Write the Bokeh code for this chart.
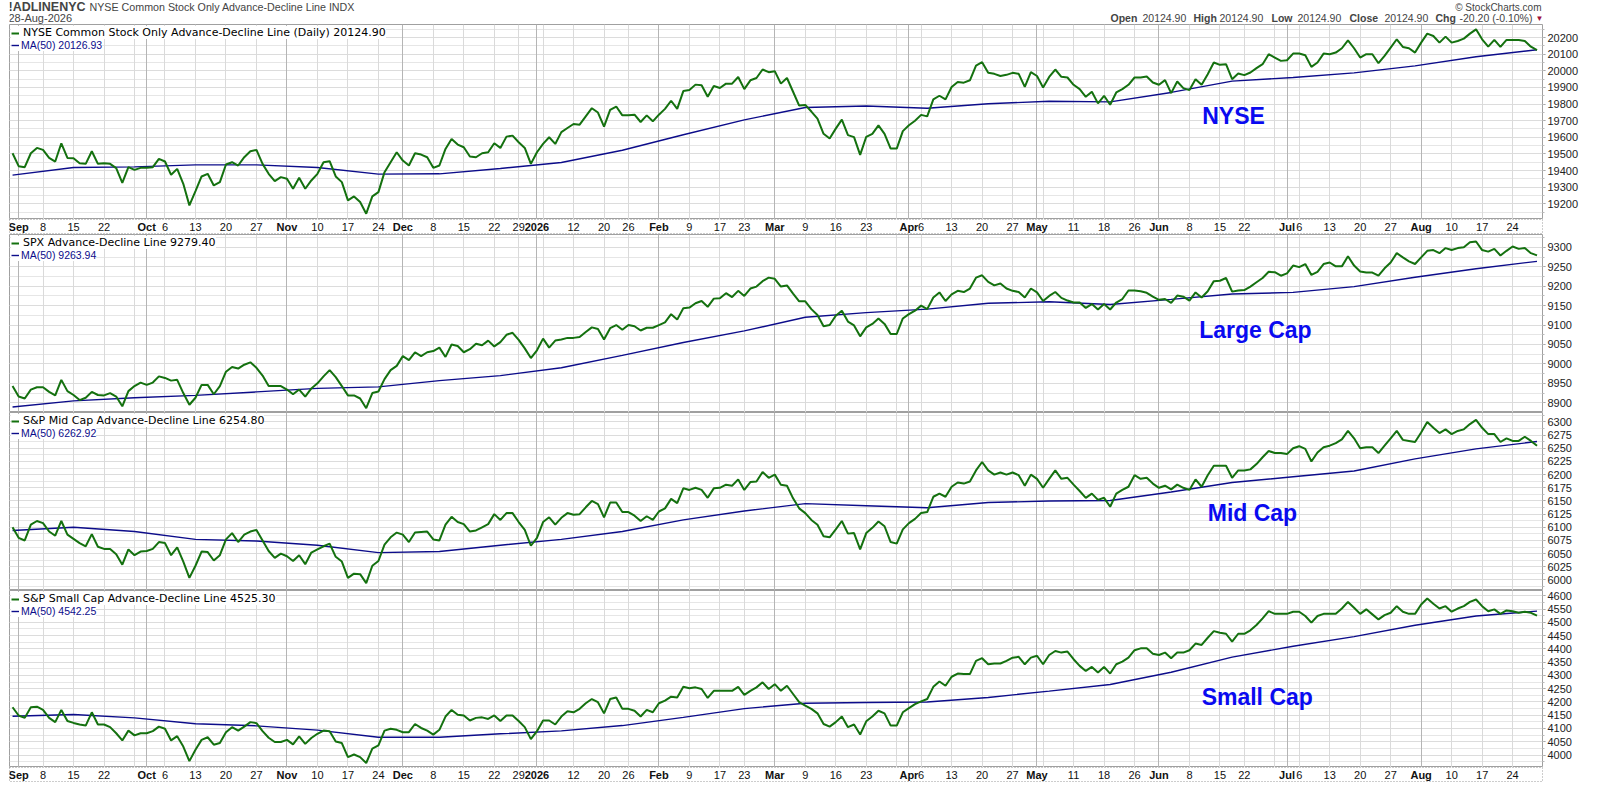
import pandas as pd
from bokeh.plotting import figure
from bokeh.layouts import column
from bokeh.models import (Range1d, SingleIntervalTicker, FixedTicker, Grid, Label,
                          Legend, LegendItem)
from bokeh.core.properties import value
from bokeh.embed import file_html
from bokeh.resources import INLINE

# trading calendar
holidays = ["2025-09-01", "2025-11-27", "2025-12-25", "2026-01-01", "2026-01-19",
            "2026-02-16", "2026-04-03", "2026-05-25", "2026-06-19", "2026-07-03"]
dates = [d for d in pd.bdate_range("2025-08-29", "2026-08-28")
         if d.strftime("%Y-%m-%d") not in holidays]

week_labels = ["2025-09-08", "2025-09-15", "2025-09-22", "2025-10-06", "2025-10-13",
               "2025-10-20", "2025-10-27", "2025-11-10", "2025-11-17", "2025-11-24",
               "2025-12-08", "2025-12-15", "2025-12-22", "2025-12-29", "2026-01-12",
               "2026-01-20", "2026-01-26", "2026-02-09", "2026-02-17", "2026-02-23",
               "2026-03-09", "2026-03-16", "2026-03-23", "2026-04-06", "2026-04-13",
               "2026-04-20", "2026-04-27", "2026-05-11", "2026-05-18", "2026-05-26",
               "2026-06-08", "2026-06-15", "2026-06-22", "2026-07-06", "2026-07-13",
               "2026-07-20", "2026-07-27", "2026-08-10", "2026-08-17", "2026-08-24"]

nyse = [19504, 19426, 19420, 19504, 19536, 19524, 19476, 19454, 19564, 19476,
        19474, 19444, 19440, 19516, 19440, 19444, 19440, 19414, 19326, 19420,
        19404, 19416, 19416, 19420, 19470, 19454, 19374, 19410, 19320, 19190,
        19276, 19364, 19380, 19310, 19330, 19436, 19450, 19430, 19480, 19516,
        19524, 19440, 19380, 19336, 19360, 19350, 19290, 19356, 19290, 19340,
        19380, 19450, 19456, 19364, 19330, 19220, 19244, 19210, 19140, 19244,
        19270, 19390, 19450, 19510, 19460, 19430, 19504, 19496, 19480, 19416,
        19430, 19530, 19590, 19556, 19540, 19484, 19480, 19504, 19510, 19564,
        19536, 19604, 19610, 19570, 19536, 19440, 19510, 19560, 19600, 19560,
        19631, 19656, 19680, 19676, 19726, 19775, 19749, 19664, 19765, 19785,
        19732, 19732, 19736, 19692, 19732, 19696, 19736, 19771, 19820, 19771,
        19878, 19884, 19917, 19913, 19844, 19909, 19897, 19923, 19923, 19963,
        19890, 19943, 19957, 20008, 19992, 19998, 19923, 19957, 19874, 19791,
        19795, 19755, 19712, 19621, 19593, 19652, 19706, 19613, 19601, 19494,
        19603, 19621, 19672, 19621, 19532, 19532, 19637, 19672, 19700, 19735,
        19726, 19828, 19850, 19828, 19903, 19933, 19929, 19943, 20032, 20052,
        19988, 19982, 19969, 19976, 19988, 19982, 19903, 19992, 19969, 19900,
        19963, 20008, 19964, 19960, 19916, 19890, 19844, 19874, 19804, 19850,
        19796, 19870, 19890, 19916, 19960, 19960, 19966, 19930, 19916, 19944,
        19866, 19936, 19896, 19884, 19950, 19916, 19980, 20050, 20036, 20040,
        19950, 19984, 19974, 19990, 20016, 20040, 20100, 20080, 20060, 20064,
        20104, 20104, 20094, 20024, 20050, 20104, 20100, 20110, 20136, 20184,
        20136, 20080, 20100, 20100, 20046, 20090, 20140, 20190, 20144, 20136,
        20110, 20170, 20224, 20210, 20170, 20206, 20170, 20180, 20194, 20224,
        20250, 20190, 20146, 20186, 20144, 20186, 20186, 20186, 20180, 20145.1,
        20124.9]

spx = [8943, 8916, 8911, 8934, 8940, 8940, 8928, 8919, 8959, 8930,
       8920, 8907, 8913, 8928, 8920, 8919, 8925, 8916, 8891, 8930,
       8943, 8952, 8946, 8952, 8968, 8964, 8957, 8959, 8925, 8895,
       8913, 8946, 8946, 8922, 8943, 8980, 8992, 8988, 8998, 9004,
       8990, 8970, 8943, 8943, 8943, 8934, 8922, 8934, 8916, 8937,
       8950, 8968, 8984, 8966, 8943, 8919, 8919, 8911, 8886, 8925,
       8929, 8961, 8984, 8995, 9020, 9010, 9030, 9020, 9030, 9033,
       9042, 9018, 9050, 9046, 9030, 9038, 9052, 9048, 9060, 9045,
       9056, 9075, 9080, 9062, 9040, 9015, 9035, 9065, 9042, 9060,
       9063, 9067, 9067, 9069, 9082, 9094, 9090, 9063, 9092, 9100,
       9088, 9100, 9097, 9086, 9093, 9093, 9100, 9107, 9128, 9114,
       9143, 9145, 9156, 9162, 9147, 9168, 9169, 9182, 9172, 9188,
       9175, 9194, 9199, 9213, 9222, 9219, 9199, 9202, 9181, 9161,
       9161, 9141, 9126, 9097, 9100, 9124, 9137, 9109, 9099, 9071,
       9094, 9103, 9117, 9103, 9077, 9077, 9117, 9128, 9137, 9150,
       9141, 9171, 9184, 9162, 9179, 9188, 9185, 9194, 9222, 9228,
       9211, 9202, 9207, 9194, 9188, 9185, 9171, 9194, 9184, 9162,
       9175, 9185, 9170, 9163, 9158, 9158, 9144, 9154, 9140, 9154,
       9140, 9158, 9167, 9189, 9189, 9187, 9183, 9173, 9165, 9167,
       9157, 9176, 9173, 9163, 9184, 9171, 9187, 9213, 9214, 9221,
       9186, 9189, 9190, 9199, 9210, 9221, 9237, 9236, 9227, 9233,
       9253, 9249, 9257, 9229, 9237, 9257, 9261, 9251, 9251, 9277,
       9253, 9238, 9235, 9235, 9227, 9246, 9261, 9285, 9274, 9264,
       9257, 9274, 9291, 9293, 9285, 9298, 9293, 9298, 9300, 9313,
       9315, 9293, 9289, 9296, 9279, 9291, 9302, 9296, 9298, 9285,
       9279.4]

midcap = [6100, 6080, 6075, 6105, 6112, 6108, 6092, 6084, 6112, 6086,
          6078, 6070, 6064, 6087, 6063, 6059, 6059, 6049, 6029, 6058,
          6047, 6054, 6055, 6059, 6072, 6070, 6047, 6062, 6035, 6004,
          6027, 6054, 6053, 6037, 6047, 6077, 6089, 6072, 6086, 6092,
          6095, 6075, 6055, 6042, 6050, 6045, 6036, 6047, 6030, 6052,
          6058, 6064, 6069, 6044, 6035, 6004, 6012, 6011, 5994, 6027,
          6036, 6067, 6081, 6090, 6086, 6072, 6090, 6091, 6092, 6077,
          6075, 6105, 6120, 6110, 6106, 6092, 6094, 6100, 6106, 6125,
          6114, 6127, 6127, 6110, 6095, 6065, 6080, 6110, 6119, 6105,
          6118, 6127, 6124, 6125, 6138, 6150, 6144, 6119, 6147, 6147,
          6129, 6129, 6122, 6112, 6121, 6114, 6130, 6136, 6154, 6146,
          6174, 6171, 6175, 6171, 6156, 6174, 6175, 6181, 6179, 6191,
          6171, 6186, 6187, 6205, 6194, 6200, 6181, 6179, 6155, 6136,
          6127, 6114, 6105, 6083, 6081, 6096, 6112, 6088, 6089, 6058,
          6089, 6099, 6111, 6102, 6072, 6069, 6096, 6108, 6116, 6127,
          6129, 6158, 6164, 6158, 6177, 6185, 6183, 6187, 6208, 6224,
          6208, 6200, 6204, 6200, 6204, 6199, 6179, 6200, 6192, 6175,
          6192, 6208, 6192, 6194, 6181, 6169, 6156, 6164, 6152, 6156,
          6139, 6164, 6171, 6177, 6199, 6192, 6194, 6183, 6175, 6179,
          6172, 6181, 6175, 6171, 6191, 6177, 6199, 6217, 6217, 6217,
          6194, 6208, 6208, 6210, 6220, 6233, 6245, 6241, 6241, 6239,
          6250, 6254, 6249, 6225, 6242, 6252, 6255, 6260, 6267, 6283,
          6269, 6250, 6252, 6252, 6241, 6255, 6269, 6283, 6266, 6264,
          6262, 6280, 6300, 6289, 6279, 6286, 6277, 6283, 6286, 6296,
          6304, 6289, 6277, 6277, 6262, 6269, 6264, 6264, 6272, 6264,
          6254.8]

smallcap = [4180, 4149, 4140, 4180, 4182, 4170, 4140, 4124, 4170, 4128,
            4121, 4115, 4111, 4161, 4115, 4115, 4105, 4082, 4055, 4092,
            4074, 4082, 4082, 4090, 4107, 4099, 4055, 4071, 4032, 3977,
            4020, 4057, 4067, 4039, 4045, 4086, 4105, 4092, 4107, 4124,
            4120, 4090, 4065, 4049, 4049, 4057, 4040, 4070, 4042, 4064,
            4080, 4092, 4090, 4051, 4045, 3992, 4002, 3992, 3970, 4024,
            4036, 4092, 4099, 4095, 4086, 4086, 4117, 4102, 4092, 4077,
            4095, 4145, 4170, 4152, 4149, 4130, 4140, 4142, 4136, 4149,
            4128, 4149, 4149, 4128, 4105, 4060, 4090, 4130, 4130, 4115,
            4145, 4165, 4161, 4174, 4195, 4211, 4199, 4157, 4211, 4217,
            4174, 4174, 4167, 4145, 4170, 4161, 4195, 4205, 4220, 4217,
            4257, 4252, 4255, 4249, 4215, 4242, 4242, 4242, 4242, 4257,
            4227, 4242, 4255, 4274, 4249, 4267, 4242, 4261, 4230, 4199,
            4186, 4174, 4157, 4117, 4107, 4124, 4145, 4105, 4115, 4077,
            4127, 4145, 4167, 4157, 4111, 4111, 4161, 4177, 4192, 4202,
            4211, 4257, 4277, 4261, 4295, 4307, 4305, 4305, 4355, 4365,
            4342, 4345, 4345, 4355, 4367, 4370, 4342, 4367, 4374, 4342,
            4377, 4392, 4386, 4390, 4361, 4336, 4317, 4332, 4311, 4332,
            4307, 4342, 4352, 4367, 4395, 4402, 4402, 4382, 4377, 4386,
            4365, 4386, 4386, 4395, 4420, 4415, 4442, 4467, 4461, 4457,
            4427, 4457, 4457, 4470, 4490, 4515, 4542, 4532, 4532, 4532,
            4540, 4540, 4524, 4499, 4524, 4532, 4532, 4532, 4552, 4577,
            4555, 4532, 4549, 4530, 4511, 4527, 4536, 4561, 4540, 4532,
            4532, 4567, 4590, 4570, 4552, 4561, 4540, 4552, 4561, 4577,
            4586, 4561, 4542, 4549, 4532, 4545, 4542, 4536, 4540, 4536,
            4525.3]

# 50-day moving averages read every 10 trading days
ma_step = 10
ma_nyse = [19372, 19418, 19422, 19434, 19434, 19418, 19378, 19380, 19412, 19448,
           19522, 19615, 19705, 19779, 19788, 19775, 19802, 19817, 19813, 19870,
           19938, 19960, 19988, 20030, 20085, 20126.93]
ma_spx = [8889, 8905, 8913, 8919, 8928, 8937, 8941, 8957, 8970, 8990,
          9022, 9055, 9085, 9120, 9132, 9141, 9156, 9160, 9153, 9166,
          9180, 9184, 9199, 9223, 9245, 9263.94]
ma_mid = [6094, 6100, 6092, 6077, 6074, 6066, 6052, 6054, 6066, 6077,
          6092, 6114, 6131, 6145, 6141, 6137, 6147, 6150, 6151, 6167,
          6185, 6196, 6207, 6230, 6249, 6262.92]
ma_small = [4146, 4153, 4140, 4118, 4110, 4094, 4067, 4067, 4080, 4091,
            4111, 4142, 4175, 4195, 4198, 4200, 4217, 4241, 4266, 4312,
            4369, 4410, 4446, 4489, 4524, 4542.25]

W = 1584
LB, RB = 9, 42          # left / right borders shared by every figure
GREEN = "#14710f"
NAVY = "#0c0c8a"
BLUE = "#0a0af0"
FONT = "Liberation Sans"

xs = list(range(len(dates)))
ma_x = list(range(0, len(dates), ma_step))
xr = Range1d(-0.5, 250.9)

week_x = [i for i in xs[1:] if dates[i].isocalendar()[1] != dates[i - 1].isocalendar()[1]]
month_x = [i for i in xs[1:] if dates[i].month != dates[i - 1].month]
week_x = [i for i in week_x if i not in month_x]
date_str = [d.strftime("%Y-%m-%d") for d in dates]
wl_x = [date_str.index(s) for s in week_labels]
wl_txt = [str(dates[i].day) for i in wl_x]
ml_txt = ["2026" if dates[i].month == 1 else dates[i].strftime("%b") for i in month_x]


def base(h, x_range, y_range, **kw):
    return figure(width=W, height=h, x_range=x_range, y_range=y_range, x_axis_type=None,
                  title=None, output_backend="svg", toolbar_location=None,
                  min_border_left=LB, min_border_right=RB, min_border_top=0,
                  min_border_bottom=0, **kw)


def panel(h, vals, ma, lo, hi, step, name, big, bx, by):
    p = base(h, xr, Range1d(lo, hi), y_axis_location="right")
    p.outline_line_color = "#a0a0a0"
    ax = p.yaxis[0]
    ax.ticker = SingleIntervalTicker(interval=step, num_minor_ticks=2)
    ax.axis_line_color = None
    ax.major_tick_in = 0
    ax.major_tick_out = 3
    ax.minor_tick_in = 0
    ax.minor_tick_out = 2
    ax.major_tick_line_color = "#999999"
    ax.minor_tick_line_color = "#bbbbbb"
    ax.major_label_standoff = 2
    ax.major_label_text_font = FONT
    ax.major_label_text_font_size = "11px"
    ax.major_label_text_color = "#222222"
    p.ygrid.grid_line_color = "#dcdcdc"
    p.ygrid.minor_grid_line_color = "#e6e6e6"
    p.add_layout(Grid(dimension=0, ticker=FixedTicker(ticks=week_x), grid_line_color="#dadada"))
    p.add_layout(Grid(dimension=0, ticker=FixedTicker(ticks=month_x), grid_line_color="#b5b5b5"))

    r_ma = p.line(ma_x, ma, line_color=NAVY, line_width=1.4)
    r = p.line(xs, vals, line_color=GREEN, line_width=2)

    legends = [
        (f"{name} {vals[-1]:.2f}", r, (2, h - 15), "black", "DejaVu Sans", "11px", 4),
        (f"MA(50) {ma[-1]:.2f}", r_ma, (2, h - 27), NAVY, FONT, "10.5px", 2),
    ]
    for label, rend, loc, col, fnt, size, stand in legends:
        p.add_layout(Legend(items=[LegendItem(label=label, renderers=[rend])], location=loc,
                            padding=1, margin=0, spacing=0, border_line_color=None,
                            background_fill_alpha=1, glyph_width=8, glyph_height=10,
                            label_height=10, label_standoff=stand, label_text_font=fnt,
                            label_text_font_size=size, label_text_color=col))

    p.add_layout(Label(x=bx, y=by, text=big, text_font=FONT, text_font_style="bold",
                       text_font_size="23px", text_color=BLUE, text_baseline="middle"))
    return p


def strip(h, yc):
    s = base(h, xr, Range1d(0, 1), y_axis_type=None)
    s.outline_line_color = "#9a9a9a"
    s.outline_line_dash = "1 2"
    s.text(wl_x, [yc] * len(wl_x), text=wl_txt, text_font=value(FONT),
           text_font_size="11px", text_align="center", text_baseline="middle",
           text_color="#111111")
    s.text(month_x, [yc] * len(month_x), text=ml_txt, text_font=value(FONT),
           text_font_style="bold", text_font_size="11px", text_align="center",
           text_baseline="middle", text_color="#111111")
    return s


# header: data x equals canvas pixels
hd = base(24, Range1d(LB, W - RB), Range1d(0, 24), y_axis_type=None)
hd.outline_line_color = None
last = nyse[-1]
chg = nyse[-1] - nyse[-2]
pct = chg / nyse[-2] * 100
hd.add_layout(Label(x=8, y=17.5, text="!ADLINENYC", text_font=FONT, text_font_style="bold",
                    text_font_size="12.5px", text_baseline="middle"))
hd.add_layout(Label(x=89, y=17.5, text="NYSE Common Stock Only Advance-Decline Line INDX",
                    text_font=FONT, text_font_size="10.7px", text_baseline="middle"))
hd.add_layout(Label(x=8, y=6.5, text="28-Aug-2026", text_font=FONT, text_font_size="11px",
                    text_baseline="middle"))
hd.add_layout(Label(x=W - RB - 1, y=17.5, text="\u00a9 StockCharts.com", text_font=FONT,
                    text_font_size="10px", text_align="right", text_baseline="middle",
                    text_color="#444444"))
ohlc = [("Open", True, 1110), (f"{last:.2f}", False, 1142),
        ("High", True, 1193), (f"{last:.2f}", False, 1219),
        ("Low", True, 1271), (f"{last:.2f}", False, 1297),
        ("Close", True, 1349), (f"{last:.2f}", False, 1384),
        ("Chg", True, 1435), (f"{chg:.2f} ({pct:.2f}%)", False, 1459)]
for txt, bold, x in ohlc:
    hd.add_layout(Label(x=x, y=6.5, text=txt, text_font=FONT, text_font_size="10.5px",
                        text_font_style="bold" if bold else "normal", text_baseline="middle"))
hd.add_layout(Label(x=1535, y=6.5, text="\u25bc", text_font=FONT, text_font_size="8px",
                    text_color="#a0103a", text_baseline="middle"))

p1 = panel(195, nyse, ma_nyse, 19105, 20279, 100,
           "NYSE Common Stock Only Advance-Decline Line (Daily)", "NYSE", 195.1, 19727)
s1 = strip(15, 0.5)
p2 = panel(178, spx, ma_spx, 8875, 9333, 50, "SPX Advance-Decline Line", "Large Cap", 194.6, 9087)
p3 = panel(178, midcap, ma_mid, 5980, 6318, 25, "S&P Mid Cap Advance-Decline Line", "Mid Cap", 196, 6127)
p4 = panel(177, smallcap, ma_small, 3953, 4620, 50, "S&P Small Cap Advance-Decline Line", "Small Cap", 195, 4217)
s2 = strip(15, 0.53)

layout = column(hd, p1, s1, p2, p3, p4, s2, spacing=0)
open("out.html", "w").write(file_html(layout, INLINE))
